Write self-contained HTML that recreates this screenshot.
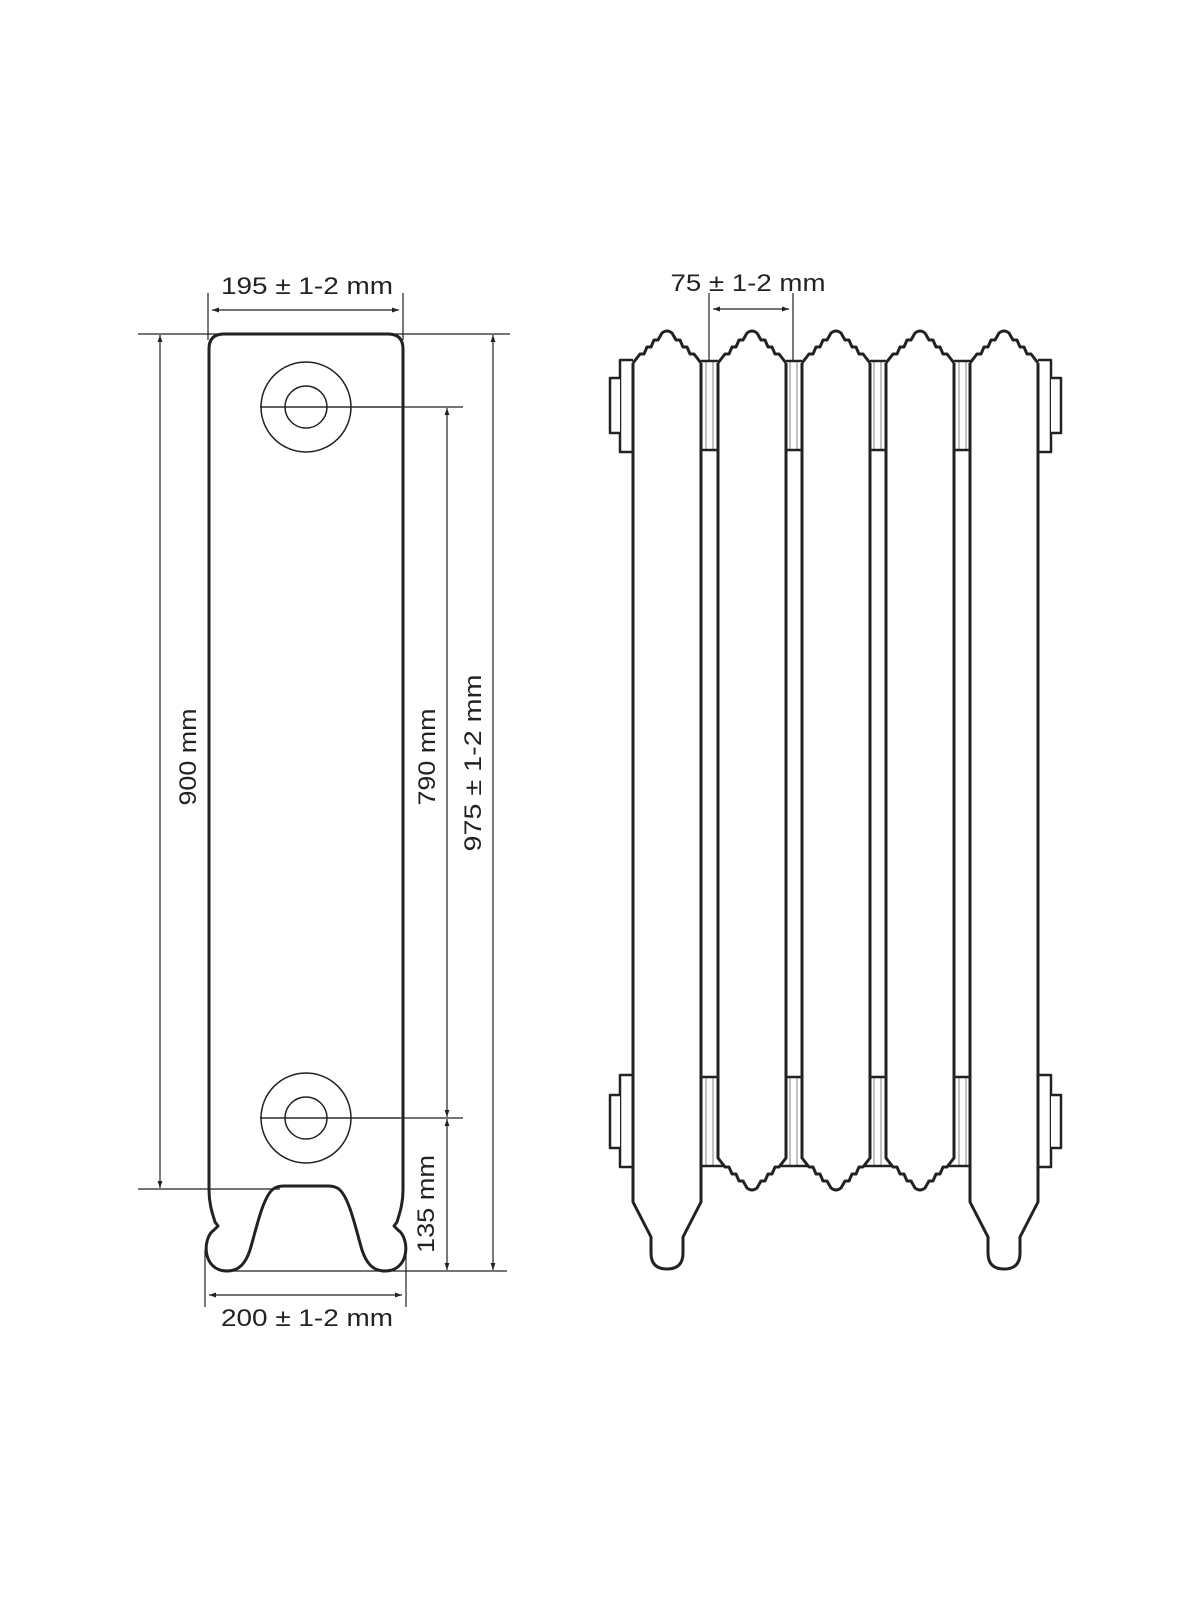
<!DOCTYPE html>
<html><head><meta charset="utf-8"><style>html,body{margin:0;padding:0;background:#fff}svg{display:block}</style></head>
<body>
<svg width="1200" height="1600" viewBox="0 0 1200 1600" xmlns="http://www.w3.org/2000/svg">
<defs>
<marker id="a" viewBox="0 0 10 10" refX="10" refY="5" markerWidth="10" markerHeight="7" orient="auto-start-reverse" markerUnits="userSpaceOnUse">
<path d="M0,1.5 L10,5 L0,8.5 Z" fill="#222"/></marker>
<path id="col" d="M0,1100 L0,0 L7,-9 L11,-9 L14,-16 L18,-16 L21,-23 L25,-23 L29,-30 Q34,-34 39,-30 L43,-23 L47,-23 L50,-16 L54,-16 L57,-9 L61,-9 L68,0 L68,1100" fill="#fff" stroke="#222" stroke-width="3" stroke-linejoin="round"/>
<path id="mid" d="M0,0 L0,795 L7,804 L11,804 L14,811 L18,811 L21,818 L25,818 L29,825 Q34,829 39,825 L43,818 L47,818 L50,811 L54,811 L57,804 L61,804 L68,795 L68,0" fill="none" stroke="#222" stroke-width="3" stroke-linejoin="round"/>
<path id="outer" d="M0,0 L0,839 L18,874 L18,890 Q18,906 34,906 Q50,906 50,890 L50,874 L68,839 L68,0" fill="none" stroke="#222" stroke-width="3" stroke-linejoin="round"/>
</defs>
<g font-family="Liberation Sans, sans-serif" fill="#222" font-size="24">
<!-- LEFT VIEW -->
<g stroke="#222" stroke-width="1.2" fill="none">
<line x1="138" y1="334" x2="510" y2="334"/>
<line x1="208" y1="293" x2="208" y2="340"/>
<line x1="403" y1="293" x2="403" y2="340"/>
<line x1="212" y1="310" x2="399" y2="310" marker-start="url(#a)" marker-end="url(#a)"/>
<line x1="160" y1="335" x2="160" y2="1188" marker-start="url(#a)" marker-end="url(#a)"/>
<line x1="138" y1="1189" x2="280" y2="1189"/>
<line x1="493" y1="335" x2="493" y2="1270" marker-start="url(#a)" marker-end="url(#a)"/>
<line x1="227" y1="1271" x2="507" y2="1271"/>
<line x1="260" y1="407" x2="463" y2="407"/>
<line x1="260" y1="1118" x2="463" y2="1118"/>
<line x1="447" y1="408" x2="447" y2="1117" marker-start="url(#a)" marker-end="url(#a)"/>
<line x1="447" y1="1119" x2="447" y2="1270" marker-start="url(#a)" marker-end="url(#a)"/>
<line x1="205" y1="1250" x2="205" y2="1307"/>
<line x1="406" y1="1250" x2="406" y2="1307"/>
<line x1="209" y1="1295" x2="402" y2="1295" marker-start="url(#a)" marker-end="url(#a)"/>
</g>
<path d="M209,349 Q209,334 224,334 L388,334 Q403,334 403,349 L403,1190 C403,1205 399,1215 397,1222 L394,1226 L398,1230 C410,1238 410,1271 385,1271 C372,1271 366,1262 362,1250 C356,1230 350,1200 340,1190 Q336,1186 328,1186 L284,1186 Q276,1186 272,1190 C262,1200 256,1230 250,1250 C246,1262 240,1271 227,1271 C202,1271 202,1238 214,1230 L218,1226 L215,1222 C213,1215 209,1205 209,1190 Z" fill="none" stroke="#222" stroke-width="3" stroke-linejoin="round"/>
<g stroke="#222" stroke-width="1.5" fill="none">
<circle cx="306" cy="407" r="45"/><circle cx="306" cy="407" r="21"/>
<circle cx="306" cy="1118" r="45"/><circle cx="306" cy="1118" r="21"/>
</g>
<line x1="260" y1="407" x2="400" y2="407" stroke="#222" stroke-width="1.2"/>
<line x1="260" y1="1118" x2="400" y2="1118" stroke="#222" stroke-width="1.2"/>
<text x="307" y="294" text-anchor="middle" textLength="172" lengthAdjust="spacingAndGlyphs">195 ± 1-2 mm</text>
<text x="307" y="1326" text-anchor="middle" textLength="172" lengthAdjust="spacingAndGlyphs">200 ± 1-2 mm</text>
<text transform="translate(196,757) rotate(-90)" text-anchor="middle" textLength="97" lengthAdjust="spacingAndGlyphs">900 mm</text>
<text transform="translate(435,757) rotate(-90)" text-anchor="middle" textLength="97" lengthAdjust="spacingAndGlyphs">790 mm</text>
<text transform="translate(481,763) rotate(-90)" text-anchor="middle" textLength="177" lengthAdjust="spacingAndGlyphs">975 ± 1-2 mm</text>
<text transform="translate(434,1204) rotate(-90)" text-anchor="middle" textLength="98" lengthAdjust="spacingAndGlyphs">135 mm</text>

<!-- RIGHT VIEW -->
<g stroke="#222" stroke-width="1.2">
<line x1="709" y1="293" x2="709" y2="362"/>
<line x1="793" y1="293" x2="793" y2="362"/>
<line x1="713" y1="309" x2="789" y2="309" marker-start="url(#a)" marker-end="url(#a)"/>
</g>
<text x="748" y="291" text-anchor="middle" textLength="155" lengthAdjust="spacingAndGlyphs">75 ± 1-2 mm</text>
<!-- plugs -->
<g fill="#fff" stroke="#222" stroke-width="2.5" stroke-linejoin="round">
<path d="M633,360 L620,360 L620,452 L633,452"/><path d="M620,378 L610,378 L610,433 L620,433"/>
<path d="M633,1075 L620,1075 L620,1167 L633,1167"/><path d="M620,1095 L610,1095 L610,1148 L620,1148"/>
<path d="M1038,360 L1051,360 L1051,452 L1038,452"/><path d="M1051,378 L1061,378 L1061,433 L1051,433"/>
<path d="M1038,1075 L1051,1075 L1051,1167 L1038,1167"/><path d="M1051,1095 L1061,1095 L1061,1148 L1051,1148"/>
</g>
<!-- nipples -->
<g stroke="#999" stroke-width="1.2">
<line x1="706" y1="362" x2="706" y2="450"/><line x1="713" y1="362" x2="713" y2="450"/>
<line x1="790" y1="362" x2="790" y2="450"/><line x1="797" y1="362" x2="797" y2="450"/>
<line x1="874" y1="362" x2="874" y2="450"/><line x1="881" y1="362" x2="881" y2="450"/>
<line x1="959" y1="362" x2="959" y2="450"/><line x1="966" y1="362" x2="966" y2="450"/>
<line x1="706" y1="1077" x2="706" y2="1166"/><line x1="713" y1="1077" x2="713" y2="1166"/>
<line x1="790" y1="1077" x2="790" y2="1166"/><line x1="797" y1="1077" x2="797" y2="1166"/>
<line x1="874" y1="1077" x2="874" y2="1166"/><line x1="881" y1="1077" x2="881" y2="1166"/>
<line x1="959" y1="1077" x2="959" y2="1166"/><line x1="966" y1="1077" x2="966" y2="1166"/>
</g>
<g stroke="#222" stroke-width="2.5">
<line x1="701" y1="361" x2="718" y2="361"/><line x1="786" y1="361" x2="802" y2="361"/><line x1="870" y1="361" x2="886" y2="361"/><line x1="954" y1="361" x2="971" y2="361"/>
<line x1="701" y1="450" x2="718" y2="450"/><line x1="786" y1="450" x2="802" y2="450"/><line x1="870" y1="450" x2="886" y2="450"/><line x1="954" y1="450" x2="971" y2="450"/>
<line x1="701" y1="1077" x2="718" y2="1077"/><line x1="786" y1="1077" x2="802" y2="1077"/><line x1="870" y1="1077" x2="886" y2="1077"/><line x1="954" y1="1077" x2="971" y2="1077"/>
<line x1="701" y1="1166" x2="724" y2="1166"/><line x1="780" y1="1166" x2="808" y2="1166"/><line x1="864" y1="1166" x2="892" y2="1166"/><line x1="948" y1="1166" x2="971" y2="1166"/>
</g>
<!-- column tops -->
<g fill="none" stroke="#222" stroke-width="3" stroke-linejoin="round">
<path d="M0,0 L7,-9 L11,-9 L14,-16 L18,-16 L21,-23 L25,-23 L29,-30 Q34,-34 39,-30 L43,-23 L47,-23 L50,-16 L54,-16 L57,-9 L61,-9 L68,0" transform="translate(633,363)"/>
<path d="M0,0 L7,-9 L11,-9 L14,-16 L18,-16 L21,-23 L25,-23 L29,-30 Q34,-34 39,-30 L43,-23 L47,-23 L50,-16 L54,-16 L57,-9 L61,-9 L68,0" transform="translate(718,363)"/>
<path d="M0,0 L7,-9 L11,-9 L14,-16 L18,-16 L21,-23 L25,-23 L29,-30 Q34,-34 39,-30 L43,-23 L47,-23 L50,-16 L54,-16 L57,-9 L61,-9 L68,0" transform="translate(802,363)"/>
<path d="M0,0 L7,-9 L11,-9 L14,-16 L18,-16 L21,-23 L25,-23 L29,-30 Q34,-34 39,-30 L43,-23 L47,-23 L50,-16 L54,-16 L57,-9 L61,-9 L68,0" transform="translate(886,363)"/>
<path d="M0,0 L7,-9 L11,-9 L14,-16 L18,-16 L21,-23 L25,-23 L29,-30 Q34,-34 39,-30 L43,-23 L47,-23 L50,-16 L54,-16 L57,-9 L61,-9 L68,0" transform="translate(970,363)"/>
</g>
<use href="#outer" transform="translate(633,363)"/>
<use href="#outer" transform="translate(970,363)"/>
<use href="#mid" transform="translate(718,363)"/>
<use href="#mid" transform="translate(802,363)"/>
<use href="#mid" transform="translate(886,363)"/>
</g>
</svg>
</body></html>
